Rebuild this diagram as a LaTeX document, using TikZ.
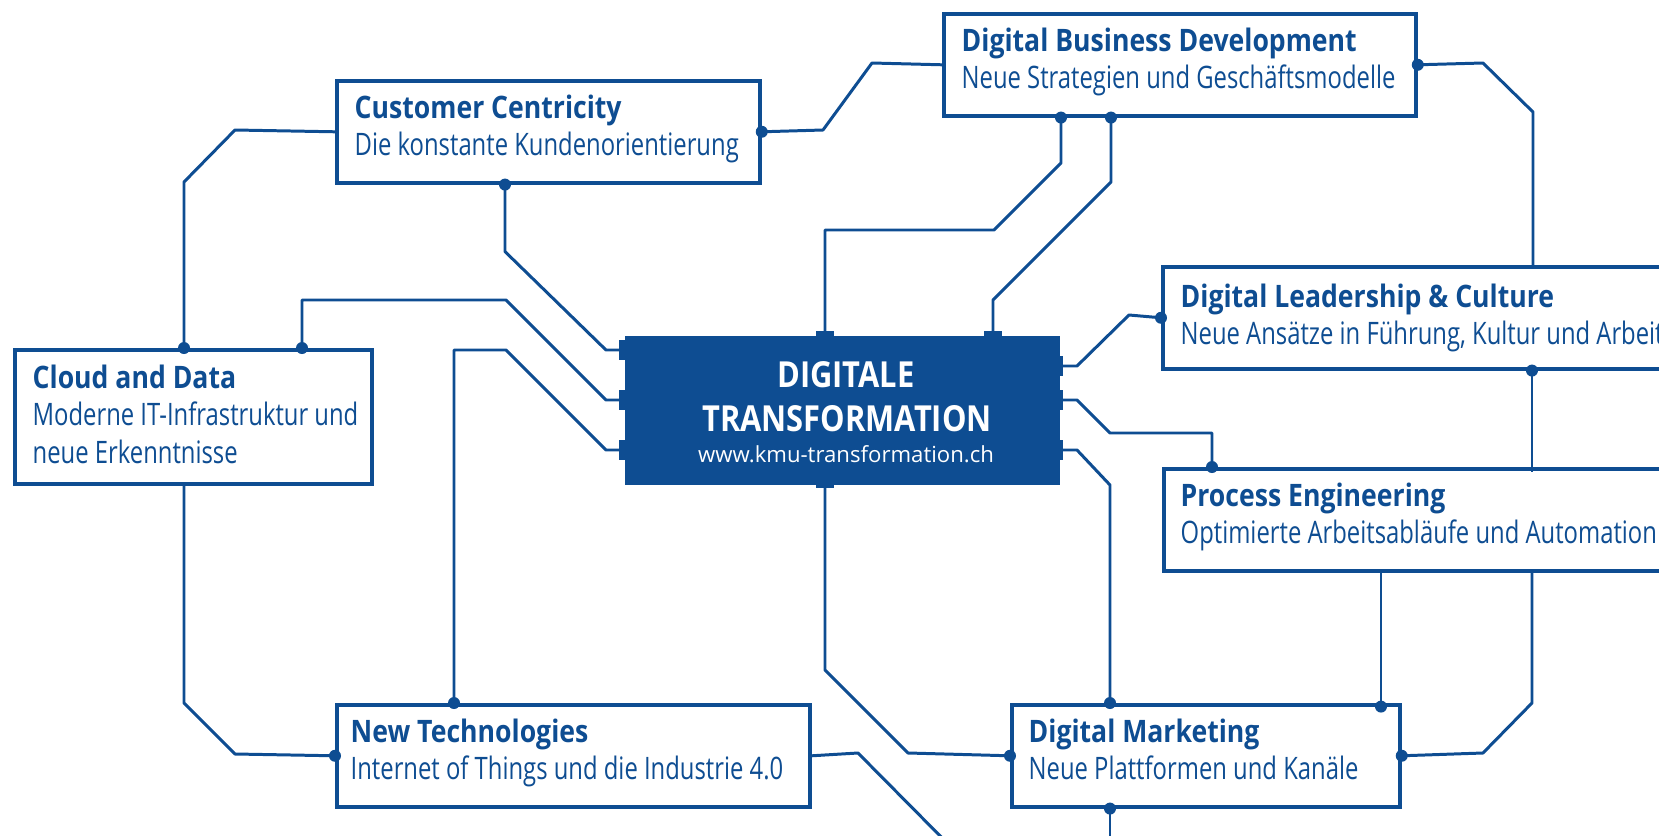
\documentclass[tikz,border=0pt]{standalone}
\usepackage{fontspec}
\setmainfont{Open Sans}
\newfontfamily\headfont{Open Sans}[FakeStretch=0.86]
\newfontfamily\subfont{Open Sans}[FakeStretch=0.77]
\usetikzlibrary{positioning}
\definecolor{dblue}{RGB}{14,77,146}
\newcommand{\head}[1]{{\headfont\bfseries #1}}

\begin{document}
\begin{tikzpicture}[x=0.01cm, y=-0.01cm,
  box/.style={draw=dblue, line width=1pt, fill=white, anchor=north west, inner sep=0pt,
    minimum width=#1, minimum height=1.02cm},
  txt/.style={text=dblue, anchor=base west, align=flush left, inner sep=0pt, text width=7cm,
    font=\subfont\fontsize{8.8}{10.8}\selectfont},
  hub/.style={fill=dblue, anchor=north west, minimum width=4.35cm, minimum height=1.49cm, inner sep=0pt},
  hubtext/.style={text=white, anchor=base, inner sep=0pt, font=\headfont\bfseries\fontsize{10.2}{12}\selectfont},
  link/.style={draw=dblue, line width=0.85pt, line join=round},
  dot/.style={circle, fill=dblue, inner sep=0pt, minimum size=0.12cm}]
  \useasboundingbox (0,0) rectangle (1659,836);
  \clip (0,0) rectangle (1659,836);

  \node[box=4.23cm] (cc) at (335,79) {};
  \node[box=4.72cm] (dbd) at (942,12) {};
  \node[box=5.6cm] (dl) at (1161,265) {};
  \node[box=3.57cm, minimum height=1.34cm] (cd) at (13,348) {};
  \node[box=5.6cm] (pe) at (1162,467) {};
  \node[box=4.73cm] (nt) at (335,703) {};
  \node[box=3.88cm] (dm) at (1010,703) {};

  \node[txt] (cc-t) at ([shift={(19,39)}]cc.north west) {\head{Customer Centricity}\\Die konstante Kundenorientierung};
  \node[txt] (dbd-t) at ([shift={(19,39)}]dbd.north west) {\head{Digital Business Development}\\Neue Strategien und Geschäftsmodelle};
  \node[txt] (dl-t) at ([shift={(19,42)}]dl.north west) {\head{Digital Leadership \& Culture}\\Neue Ansätze in Führung, Kultur und Arbeit};
  \node[txt] (cd-t) at ([shift={(19,40)}]cd.north west) {\head{Cloud and Data}\\Moderne IT-Infrastruktur und\\neue Erkenntnisse};
  \node[txt] (pe-t) at ([shift={(18,39)}]pe.north west) {\head{Process Engineering}\\Optimierte Arbeitsabläufe und Automation};
  \node[txt] (nt-t) at ([shift={(15,39)}]nt.north west) {\head{New Technologies}\\Internet of Things und die Industrie 4.0};
  \node[txt] (dm-t) at ([shift={(18,39)}]dm.north west) {\head{Digital Marketing}\\Neue Plattformen und Kanäle};

  \node[hub] (hub) at (624,335) {};
  \foreach \y in {350,400,450} \fill[dblue] (619,\y-10) rectangle (626,\y+10);
  \foreach \y in {366,400,450} \fill[dblue] (1057,\y-10) rectangle (1063,\y+10);
  \foreach \x in {825,993} \fill[dblue] (\x-9,331) rectangle (\x+9,337);
  \fill[dblue] (816,482) rectangle (834,488);
  \node[hubtext] (h1) at (846,387) {DIGITALE};
  \node[hubtext] (h2) at (847,431) {TRANSFORMATION};
  \node[hubtext, font=\fontsize{6.3}{8}\selectfont] (url) at (846,462) {www.kmu-transformation.ch};

  \coordinate (l1) at (620,350);
  \coordinate (l2) at (620,400);
  \coordinate (l3) at (620,450);
  \coordinate (r1) at (1062,366);
  \coordinate (r2) at (1062,400);
  \coordinate (r3) at (1062,450);
  \coordinate (t1) at (825,333);
  \coordinate (t2) at (993,333);
  \coordinate (b1) at (825,486);
  \coordinate (out1) at (961,857);

  \draw[link] (cc.east) node[dot]{} -- (823,130) -- (872,63) -- (dbd.west);
  \draw[link] (cd.north west) ++(171,0) node[dot]{} -- (184,182) -- (235,130) -- (cc.west);
  \draw[link] (cc.south west) ++(170,0) node[dot]{} -- ++(0,67) -- (606,350) -- (l1);
  \draw[link] (cd.north west) ++(289,0) node[dot]{} -- ++(0,-48) -- (506,300) -- (606,400) -- (l2);
  \draw[link] (nt.north west) ++(119,0) node[dot]{} -- (454,350) -- (506,350) -- (606,450) -- (l3);
  \draw[link] (cd.south west) ++(171,0) -- (184,703) -- (235,754) -- (nt.west) node[dot]{};
  \draw[link] (dbd.south west) ++(119,0) node[dot]{} -- (1061,163) -- (994,230) -- (825,230) -- (t1);
  \draw[link] (dbd.south west) ++(169,0) node[dot]{} -- (1111,182) -- (993,300) -- (t2);
  \draw[link] (dl.north west) ++(372,0) -- (1533,112) -- (1483,63) -- (dbd.east) node[dot]{};
  \draw[link] (r1) -- (1077,366) -- (1129,315) -- (dl.west) node[dot]{};
  \draw[link] (pe.north west) ++(50,0) node[dot]{} -- (1212,433) -- (1110,433) -- (1077,400) -- (r2);
  \draw[link] (dm.north west) ++(100,0) node[dot]{} -- (1110,485) -- (1077,450) -- (r3);
  \draw[link] (dl.south west) ++(371,0) node[dot]{} -- ++(0,101);
  \draw[link] (pe.south west) ++(219,0) -- ++(0,134) node[dot]{};
  \draw[link] (pe.south west) ++(370,0) -- (1532,703) -- (1483,753) -- (dm.east) node[dot]{};
  \draw[link] (b1) -- (825,670) -- (908,753) -- (dm.west) node[dot]{};
  \draw[link] (nt.east) -- (858,753) -- (out1);
  \draw[link] (dm.south west) ++(100,0) node[dot]{} -- ++(0,50);
\end{tikzpicture}
\end{document}
